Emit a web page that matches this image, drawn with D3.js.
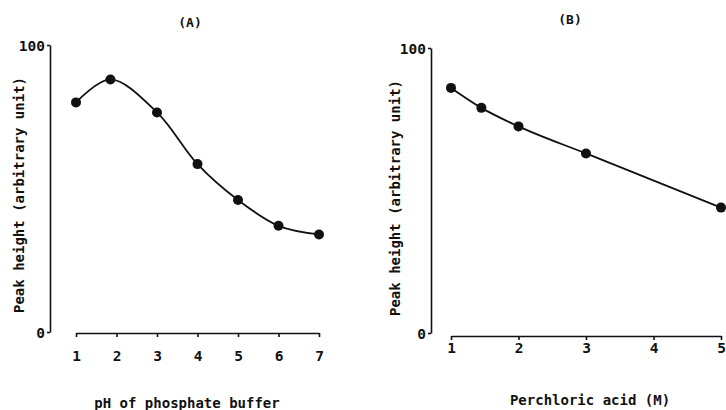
<!DOCTYPE html>
<html>
<head>
  <title>Peak height vs pH and perchloric acid</title>
  <script src="https://d3js.org/d3.v7.min.js"></script>
  <style>
    body { margin: 0; background: #fff; }
    text { font-family: "DejaVu Sans Mono", monospace; fill: #111; font-weight: bold; }
    .axis path, .axis line { stroke: #111; stroke-width: 1.6; }
    .axis text { font-size: 14.5px; }
  </style>
</head>
<body>
<div id="chart"></div>
<script>

// values
var phA = [1, 1.85, 3, 4, 5, 6, 7];
var peakA = [80, 88, 76.5, 58.5, 46, 37, 34];
var acidB = [1, 1.45, 2, 3, 5];
var peakB = [86, 79, 72.5, 63, 44];
var ticksA = [1, 2, 3, 4, 5, 6, 7];
var ticksB = [1, 2, 3, 4, 5];
var yTicks = [0, 100];

var svg = d3.select("#chart").append("svg")
  .attr("width", 726)
  .attr("height", 410);

// panel settings
var panels = [
  { title: "(A)", xTitle: "pH of phosphate buffer", xs: phA, ys: peakA, ticks: ticksA,
    xDomain: [1, 7], xRange: [76, 319], yRange: [332, 45], yAxisX: 50, xAxisY: 333,
    labelPad: 14, titleX: 190, titleY: 27, xTitleX: 187, xTitleY: 408, yTitleX: 24, yTitleY: 195,
    curve: d3.curveCatmullRom },
  { title: "(B)", xTitle: "Perchloric acid (M)", xs: acidB, ys: peakB, ticks: ticksB,
    xDomain: [1, 5], xRange: [451, 721], yRange: [333, 48], yAxisX: 431, xAxisY: 336,
    labelPad: 3, titleX: 570, titleY: 24, xTitleX: 590, xTitleY: 405, yTitleX: 400, yTitleY: 198,
    curve: d3.curveMonotoneX }
];

panels.forEach(function(p) {
  var x = d3.scaleLinear().domain(p.xDomain).range(p.xRange);
  var y = d3.scaleLinear().domain([0, 100]).range(p.yRange);

  // y axis
  svg.append("g")
    .attr("class", "axis")
    .attr("transform", "translate(" + p.yAxisX + ",0)")
    .call(d3.axisLeft(y).tickValues(yTicks).tickSizeInner(3).tickSizeOuter(0).tickPadding(2))
    .call(function(g) { g.selectAll("text").attr("dy", "0.35em"); });

  // x axis
  svg.append("g")
    .attr("class", "axis")
    .attr("transform", "translate(0," + p.xAxisY + ")")
    .call(d3.axisBottom(x).tickValues(p.ticks).tickFormat(d3.format("d"))
      .tickSizeInner(4).tickSizeOuter(0).tickPadding(p.labelPad));

  svg.append("text")
    .attr("x", p.titleX).attr("y", p.titleY)
    .attr("text-anchor", "middle")
    .style("font-size", "13px")
    .text(p.title);

  svg.append("text")
    .attr("x", p.xTitleX).attr("y", p.xTitleY)
    .attr("text-anchor", "middle")
    .style("font-size", "14px")
    .text(p.xTitle);

  svg.append("text")
    .attr("transform", "translate(" + p.yTitleX + "," + p.yTitleY + ") rotate(-90)")
    .attr("text-anchor", "middle")
    .style("font-size", "14px")
    .text("Peak height (arbitrary unit)");

  var pts = p.xs.map(function(d, i) { return [d, p.ys[i]]; });

  svg.append("path")
    .datum(pts)
    .attr("fill", "none")
    .attr("stroke", "#111")
    .attr("stroke-width", 1.8)
    .attr("d", d3.line()
      .x(function(d) { return x(d[0]); })
      .y(function(d) { return y(d[1]); })
      .curve(p.curve));

  svg.append("g").selectAll("circle")
    .data(pts)
    .enter()
    .append("circle")
    .attr("cx", function(d) { return x(d[0]); })
    .attr("cy", function(d) { return y(d[1]); })
    .attr("r", 5)
    .attr("fill", "#111");
});

</script>
</body>
</html>
